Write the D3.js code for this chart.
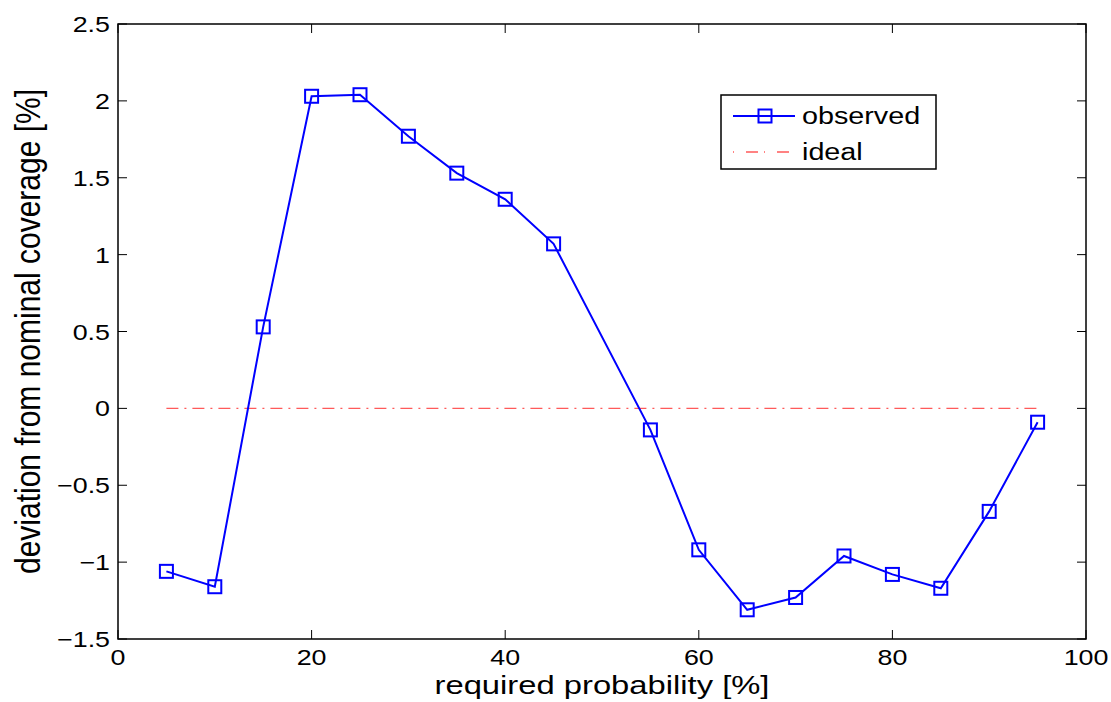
<!DOCTYPE html>
<html>
<head>
<meta charset="utf-8">
<script src="https://cdn.jsdelivr.net/npm/d3@7"></script>
<style>
  html, body { margin: 0; padding: 0; background: #fff; }
  svg { display: block; font-family: "Liberation Sans", Arial, sans-serif; }
</style>
</head>
<body>
<svg id="chart" width="1111" height="702"></svg>
<script>
// data
const probability = [5, 10, 15, 20, 25, 30, 35, 40, 45, 55, 60, 65, 70, 75, 80, 85, 90, 95];
const observed = [-1.06, -1.16, 0.53, 2.03, 2.04, 1.77, 1.53, 1.36, 1.07, -0.14, -0.92, -1.31, -1.23, -0.96, -1.08, -1.17, -0.67, -0.09];
const idealX = [5, 95];
const idealY = [0, 0];
const xTicks = [0, 20, 40, 60, 80, 100];
const yTicks = [-1.5, -1, -0.5, 0, 0.5, 1, 1.5, 2, 2.5];
const legendItems = ['observed', 'ideal'];

const svg = d3.select('#chart');
const margin = { left: 118, right: 25, top: 24, bottom: 63 };
const W = 1111, H = 702;

const x = d3.scaleLinear().domain([0, 100]).range([margin.left, W - margin.right]);
const y = d3.scaleLinear().domain([-1.5, 2.5]).range([H - margin.bottom, margin.top]);

const fmt = v => String(v).replace('-', '\u2212');
const tickLen = 9;
// the original figure's text is a bit wider than it is tall
const tickSx = 1.22;

const axes = svg.append('g');
axes.append('rect')
  .attr('x', x(0)).attr('y', y(2.5))
  .attr('width', x(100) - x(0)).attr('height', y(-1.5) - y(2.5))
  .attr('fill', 'none').attr('stroke', '#000').attr('stroke-width', 1.5);

axes.selectAll('.xt-b').data(xTicks).join('line')
  .attr('x1', d => x(d)).attr('x2', d => x(d))
  .attr('y1', y(-1.5)).attr('y2', y(-1.5) - tickLen)
  .attr('stroke', '#000').attr('stroke-width', 1);
axes.selectAll('.xt-t').data(xTicks).join('line')
  .attr('x1', d => x(d)).attr('x2', d => x(d))
  .attr('y1', y(2.5)).attr('y2', y(2.5) + tickLen)
  .attr('stroke', '#000').attr('stroke-width', 1);
axes.selectAll('.yt-l').data(yTicks).join('line')
  .attr('x1', x(0)).attr('x2', x(0) + tickLen)
  .attr('y1', d => y(d)).attr('y2', d => y(d))
  .attr('stroke', '#000').attr('stroke-width', 1);
axes.selectAll('.yt-r').data(yTicks).join('line')
  .attr('x1', x(100)).attr('x2', x(100) - tickLen)
  .attr('y1', d => y(d)).attr('y2', d => y(d))
  .attr('stroke', '#000').attr('stroke-width', 1);

// tick labels
axes.selectAll('.xl').data(xTicks).join('text')
  .attr('transform', d => `translate(${x(d)},${y(-1.5) + 26}) scale(${tickSx},1)`)
  .attr('text-anchor', 'middle').attr('font-size', 22)
  .text(d => fmt(d));
axes.selectAll('.yl').data(yTicks).join('text')
  .attr('transform', d => `translate(${x(0) - 8},${y(d) + 8}) scale(${tickSx},1)`)
  .attr('text-anchor', 'end').attr('font-size', 22)
  .text(d => fmt(d));

// axis titles
svg.append('text')
  .attr('transform', `translate(${(x(0) + x(100)) / 2},694) scale(1.26,1)`)
  .attr('text-anchor', 'middle').attr('font-size', 26)
  .text('required probability [%]');
svg.append('text')
  .attr('transform', `translate(40,${(y(-1.5) + y(2.5)) / 2}) rotate(-90) scale(1,1.15)`)
  .attr('text-anchor', 'middle').attr('font-size', 30)
  .text('deviation from nominal coverage [%]');

// ideal line
const idealPts = idealX.map((v, i) => [v, idealY[i]]);
svg.append('path')
  .attr('d', d3.line().x(d => x(d[0])).y(d => y(d[1]))(idealPts))
  .attr('fill', 'none').attr('stroke', '#ff5a5a').attr('stroke-width', 1.3)
  .attr('stroke-dasharray', '12 6 2 6');

// observed line + square markers
const obsPts = probability.map((p, i) => [p, observed[i]]);
svg.append('path')
  .attr('d', d3.line().x(d => x(d[0])).y(d => y(d[1]))(obsPts))
  .attr('fill', 'none').attr('stroke', '#0000ff').attr('stroke-width', 2);

const ms = 13;
svg.selectAll('.mk').data(obsPts).join('rect')
  .attr('x', d => x(d[0]) - ms / 2).attr('y', d => y(d[1]) - ms / 2)
  .attr('width', ms).attr('height', ms)
  .attr('fill', 'none').attr('stroke', '#0000ff').attr('stroke-width', 2);

// legend
const lg = svg.append('g').attr('transform', 'translate(721,95)');
lg.append('rect').attr('width', 215).attr('height', 74)
  .attr('fill', '#fff').attr('stroke', '#000').attr('stroke-width', 1.5);
legendItems.forEach((name, i) => {
  const ly = 21 + i * 36;
  if (i === 0) {
    lg.append('line').attr('x1', 12).attr('x2', 74).attr('y1', ly).attr('y2', ly)
      .attr('stroke', '#0000ff').attr('stroke-width', 2);
    lg.append('rect').attr('x', 44 - ms / 2).attr('y', ly - ms / 2)
      .attr('width', ms).attr('height', ms)
      .attr('fill', 'none').attr('stroke', '#0000ff').attr('stroke-width', 2);
  } else {
    lg.append('line').attr('x1', 12).attr('x2', 74).attr('y1', ly).attr('y2', ly)
      .attr('stroke', '#ff5a5a').attr('stroke-width', 1.3)
      .attr('stroke-dasharray', '1 12 12 6');
  }
  lg.append('text').attr('transform', `translate(81,${ly + 8}) scale(1.25,1)`)
    .attr('font-size', 23).text(name);
});
</script>
</body>
</html>
